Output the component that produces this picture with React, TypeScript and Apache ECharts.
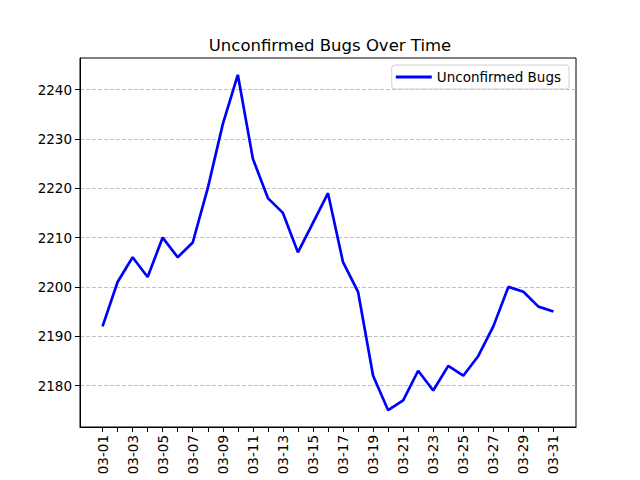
import { useEffect, useRef } from 'react';
import * as echarts from 'echarts';

const dates = [
  '03-01', '03-02', '03-03', '03-04', '03-05', '03-06', '03-07', '03-08', '03-09', '03-10',
  '03-11', '03-12', '03-13', '03-14', '03-15', '03-16', '03-17', '03-18', '03-19', '03-20',
  '03-21', '03-22', '03-23', '03-24', '03-25', '03-26', '03-27', '03-28', '03-29', '03-30', '03-31',
];
const unconfirmedBugs = [
  2192, 2201, 2206, 2202, 2210, 2206, 2209, 2220, 2233, 2243,
  2226, 2218, 2215, 2207, 2213, 2219, 2205, 2199, 2182, 2175,
  2177, 2183, 2179, 2184, 2182, 2186, 2192, 2200, 2199, 2196, 2195,
];
const yTicks = [2180, 2190, 2200, 2210, 2220, 2230, 2240];
const yMin = 2171.6;
const yMax = 2246.4;

const FONT = 'DejaVu Sans';

export default function App() {
  const ref = useRef<HTMLDivElement>(null);
  useEffect(() => {
    const chart = echarts.init(ref.current!, null, { renderer: 'svg' });
    const cats = ['', ...dates, ' '];
    const last = cats.length - 1;
    chart.setOption({
      animation: false,
      backgroundColor: '#ffffff',
      textStyle: { fontFamily: FONT },
      title: {
        text: 'Unconfirmed Bugs Over Time',
        left: 325,
        top: 32,
        textAlign: 'center',
        textStyle: { fontFamily: FONT, fontSize: 16.5, fontWeight: 'normal', color: '#000' },
      },
      legend: {
        right: 71,
        top: 65,
        orient: 'vertical',
        backgroundColor: '#fff',
        borderColor: '#d0d0d0',
        borderWidth: 1,
        borderRadius: 3,
        padding: [5, 8, 5, 4],
        itemWidth: 36,
        itemHeight: 14,
        textStyle: { fontFamily: FONT, fontSize: 13.5, color: '#000' },
        data: [{ name: 'Unconfirmed Bugs', icon: 'path://M0,5.6 L36,5.6 L36,8.4 L0,8.4 Z' }],
      },
      grid: {
        left: 80,
        right: 64,
        top: 58,
        bottom: 53,
        show: true,
        borderColor: '#000',
        borderWidth: 1,
        backgroundColor: 'transparent',
      },
      xAxis: {
        type: 'category',
        data: cats,
        boundaryGap: true,
        axisLine: { show: true, lineStyle: { color: '#000', width: 1 } },
        axisTick: {
          show: true,
          alignWithLabel: true,
          length: 5,
          interval: (i: number) => i > 0 && i < last,
          lineStyle: { color: '#000', width: 1 },
        },
        axisLabel: {
          interval: (i: number) => i % 2 === 1 && i < last,
          rotate: 90,
          margin: 8,
          fontFamily: FONT,
          fontSize: 13.5,
          color: '#000',
        },
        splitLine: { show: false },
      },
      yAxis: {
        type: 'value',
        min: yMin,
        max: yMax,
        axisLine: { show: true, lineStyle: { color: '#000', width: 1 } },
        axisTick: { show: true, length: 5, customValues: yTicks, lineStyle: { color: '#000', width: 1 } },
        axisLabel: {
          customValues: yTicks,
          margin: 8,
          fontFamily: FONT,
          fontSize: 13.5,
          color: '#000',
          formatter: (v: number) => String(v),
        },
        splitLine: { show: true, lineStyle: { color: '#b0b0b0', type: [4, 2], width: 0.8 } },
      },
      series: [
        {
          name: 'Unconfirmed Bugs',
          type: 'line',
          data: unconfirmedBugs.map((v, i) => [dates[i], v]),
          symbol: 'none',
          showSymbol: false,
          lineStyle: { color: '#0000ff', width: 2.7 },
          itemStyle: { color: '#0000ff' },
        },
      ],
    });
    return () => chart.dispose();
  }, []);
  return <div ref={ref} style={{ position: 'fixed', left: 0, top: 0, width: 640, height: 480 }} />;
}
